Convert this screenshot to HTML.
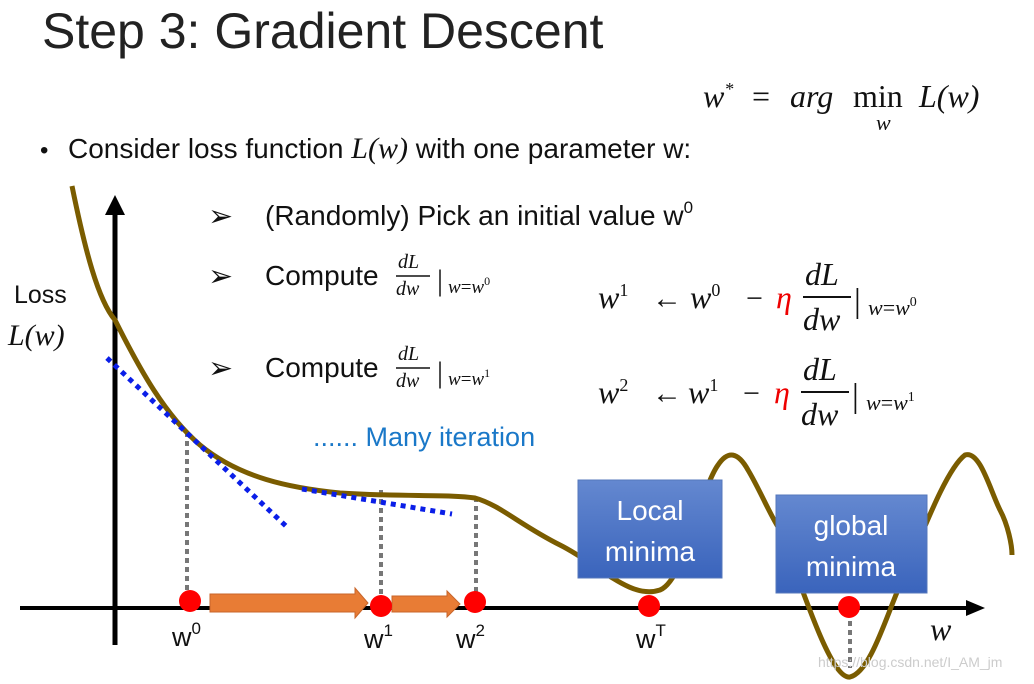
<!DOCTYPE html>
<html><head><meta charset="utf-8"><style>
html,body{margin:0;padding:0;background:#fff;}
svg{display:block;}
.s{font-family:"Liberation Sans","DejaVu Sans",sans-serif;fill:#111;}
.m{font-family:"Liberation Serif","DejaVu Serif",serif;font-style:italic;fill:#111;}
.u{font-family:"Liberation Serif","DejaVu Serif",serif;fill:#111;}
</style></head><body>
<svg width="1034" height="684" viewBox="0 0 1034 684" xmlns="http://www.w3.org/2000/svg">
<text x="42" y="48" class="s" font-size="50" style="fill:#222">Step 3: Gradient Descent</text>

<text x="703" y="107" class="m" font-size="32">w<tspan font-size="18" dy="-12">*</tspan></text>
<text x="752" y="107" class="u" font-size="32">=</text>
<text x="790" y="107" class="m" font-size="32">arg</text>
<text x="853" y="107" class="u" font-size="32">min</text>
<text x="876" y="130" class="m" font-size="22">w</text>
<text x="919" y="107" class="m" font-size="32">L(w)</text>

<text x="40" y="158" class="s" font-size="24">•</text>
<text x="68" y="158" class="s" font-size="28">Consider loss function <tspan class="m" font-size="30">L(w)</tspan> with one parameter w:</text>

<text x="208" y="226" class="s" font-size="30" style="font-weight:bold">➢</text>
<text x="265" y="225" class="s" font-size="28">(Randomly) Pick an initial value w<tspan font-size="17" dy="-12">0</tspan></text>

<text x="208" y="286" class="s" font-size="30" style="font-weight:bold">➢</text>
<text x="265" y="285" class="s" font-size="28">Compute</text>
<text x="398" y="268" class="m" font-size="20">dL</text>
<line x1="396" y1="276" x2="430" y2="276" stroke="#111" stroke-width="1.5"/>
<text x="396" y="295" class="m" font-size="20">dw</text>
<text x="437" y="290" class="u" font-size="30">|</text>
<text x="448" y="293" class="m" font-size="19">w<tspan font-style="normal">=</tspan>w<tspan font-size="12" dy="-8" font-style="normal">0</tspan></text>

<text x="208" y="378" class="s" font-size="30" style="font-weight:bold">➢</text>
<text x="265" y="377" class="s" font-size="28">Compute</text>
<text x="398" y="360" class="m" font-size="20">dL</text>
<line x1="396" y1="368" x2="430" y2="368" stroke="#111" stroke-width="1.5"/>
<text x="396" y="387" class="m" font-size="20">dw</text>
<text x="437" y="382" class="u" font-size="30">|</text>
<text x="448" y="385" class="m" font-size="19">w<tspan font-style="normal">=</tspan>w<tspan font-size="12" dy="-8" font-style="normal">1</tspan></text>

<!-- formula 1 -->
<text x="598" y="308" class="m" font-size="32">w<tspan font-size="18" dy="-12" font-style="normal">1</tspan></text>
<text x="652" y="308" class="u" font-size="30">←</text>
<text x="690" y="308" class="m" font-size="32">w<tspan font-size="18" dy="-12" font-style="normal">0</tspan></text>
<text x="746" y="308" class="u" font-size="30">−</text>
<text x="776" y="308" class="m" font-size="32" style="fill:#e00">η</text>
<text x="805" y="285" class="m" font-size="32">dL</text>
<line x1="803" y1="297" x2="851" y2="297" stroke="#111" stroke-width="2"/>
<text x="803" y="330" class="m" font-size="32">dw</text>
<text x="854" y="312" class="u" font-size="34">|</text>
<text x="868" y="315" class="m" font-size="22">w<tspan font-style="normal">=</tspan>w<tspan font-size="14" dy="-9" font-style="normal">0</tspan></text>

<!-- formula 2 -->
<text x="598" y="403" class="m" font-size="32">w<tspan font-size="18" dy="-12" font-style="normal">2</tspan></text>
<text x="652" y="403" class="u" font-size="30">←</text>
<text x="688" y="403" class="m" font-size="32">w<tspan font-size="18" dy="-12" font-style="normal">1</tspan></text>
<text x="743" y="403" class="u" font-size="30">−</text>
<text x="774" y="403" class="m" font-size="32" style="fill:#e00">η</text>
<text x="803" y="380" class="m" font-size="32">dL</text>
<line x1="801" y1="392" x2="849" y2="392" stroke="#111" stroke-width="2"/>
<text x="801" y="425" class="m" font-size="32">dw</text>
<text x="852" y="407" class="u" font-size="34">|</text>
<text x="866" y="410" class="m" font-size="22">w<tspan font-style="normal">=</tspan>w<tspan font-size="14" dy="-9" font-style="normal">1</tspan></text>

<text x="313" y="446" class="s" font-size="27" style="fill:#1a78c8">...... Many iteration</text>

<text x="14" y="303" class="s" font-size="25">Loss</text>
<text x="8" y="345" class="m" font-size="30">L(w)</text>

<!-- axes -->
<line x1="20" y1="608" x2="972" y2="608" stroke="#000" stroke-width="4"/>
<polygon points="985,608 966,600 966,616" fill="#000"/>
<line x1="115" y1="645" x2="115" y2="210" stroke="#000" stroke-width="5"/>
<polygon points="115,195 105,215 125,215" fill="#000"/>

<!-- gray dotted -->
<g stroke="#777" stroke-width="4" stroke-dasharray="5,4">
<line x1="187" y1="432" x2="187" y2="600"/>
<line x1="381" y1="490" x2="381" y2="600"/>
<line x1="476" y1="497" x2="476" y2="600"/>
<line x1="850" y1="612" x2="850" y2="668"/>
</g>

<!-- curve -->
<path d="M72,186 C85,250 98,300 115,320 C140,370 165,415 200,445 C240,478 290,488 340,493 C400,497 450,494 475,498 C500,505 520,525 560,545 C600,565 630,600 660,590 C685,580 700,490 718,465 C728,450 738,452 748,470 C760,490 770,515 780,530 C800,580 830,680 850,677 C870,672 885,620 900,585 C920,540 945,470 965,455 C980,450 990,490 1000,510 C1008,525 1012,545 1012,555" fill="none" stroke="#7a5c00" stroke-width="5"/>

<!-- blue tangents -->
<g stroke="#0a1ee8" stroke-width="5" stroke-dasharray="5,5">
<line x1="107" y1="358" x2="287" y2="527"/>
<line x1="302" y1="489" x2="452" y2="514"/>
</g>

<!-- orange arrows -->
<polygon points="210,594 355,594 355,588 368,603 355,618 355,612 210,612" fill="#e87c35" stroke="#c8652a" stroke-width="1"/>
<polygon points="392,596 447,596 447,591 460,604 447,617 447,612 392,612" fill="#e87c35" stroke="#c8652a" stroke-width="1"/>

<!-- boxes -->
<defs><linearGradient id="g" x1="0" y1="0" x2="0" y2="1"><stop offset="0" stop-color="#6488d0"/><stop offset="1" stop-color="#3a64bc"/></linearGradient></defs>
<rect x="578" y="480" width="144" height="98" fill="url(#g)" stroke="#5577bb"/>
<text x="650" y="520" class="s" font-size="28" text-anchor="middle" style="fill:#fff">Local</text>
<text x="650" y="561" class="s" font-size="28" text-anchor="middle" style="fill:#fff">minima</text>
<rect x="776" y="495" width="151" height="98" fill="url(#g)" stroke="#5577bb"/>
<text x="851" y="535" class="s" font-size="28" text-anchor="middle" style="fill:#fff">global</text>
<text x="851" y="576" class="s" font-size="28" text-anchor="middle" style="fill:#fff">minima</text>

<!-- red dots -->
<g fill="#f00">
<circle cx="190" cy="601" r="11"/><circle cx="381" cy="606" r="11"/><circle cx="475" cy="602" r="11"/><circle cx="649" cy="606" r="11"/><circle cx="849" cy="607" r="11"/>
</g>

<text x="172" y="646" class="s" font-size="27">w<tspan font-size="17" dy="-12">0</tspan></text>
<text x="364" y="648" class="s" font-size="27">w<tspan font-size="17" dy="-12">1</tspan></text>
<text x="456" y="648" class="s" font-size="27">w<tspan font-size="17" dy="-12">2</tspan></text>
<text x="636" y="648" class="s" font-size="27">w<tspan font-size="17" dy="-12">T</tspan></text>
<text x="930" y="640" class="m" font-size="32">w</text>
<text x="818" y="667" class="s" font-size="14" style="fill:#ccc">https://blog.csdn.net/I_AM_jm</text>
</svg>
</body></html>
